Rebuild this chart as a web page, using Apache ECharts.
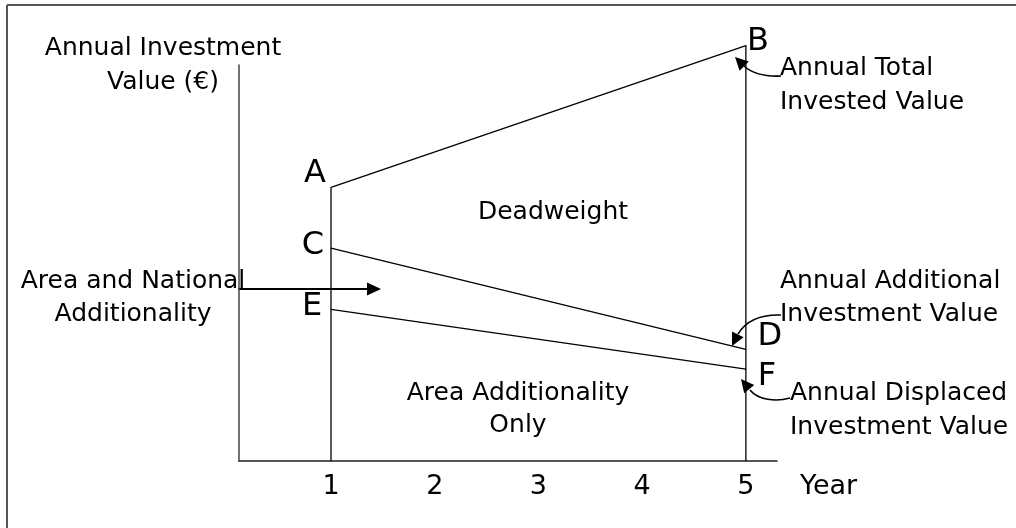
<!DOCTYPE html>
<html>
<head>
<meta charset="utf-8">
<title>Annual Investment Value</title>
<script src="https://cdn.jsdelivr.net/npm/echarts@6/dist/echarts.min.js"></script>
<style>
html, body { margin: 0; padding: 0; background: #fff; }
#chart { width: 1016px; height: 528px; }
</style>
</head>
<body>
<div id="chart"></div>
<script>
// x axis ticks (years) and the two years the lines span
var yearTicks = [1, 2, 3, 4, 5];
var spanYears = [1, 5];
// annual values at year 1 and year 5 (arbitrary units)
var totalInvested = [76, 115.4];   // A -> B
var additional = [59.1, 31.0];     // C -> D
var displaced = [42.1, 25.5];      // E -> F
var startLetters = ['A', 'C', 'E'];
var endLetters = ['B', 'D', 'F'];

var FONT = 'DejaVu Sans';
var chartDom = document.getElementById('chart');
var myChart = echarts.init(chartDom);

// where each letter sits relative to its point
var startOffsets = [[-16, -14], [-18, -3], [-19, -3]];
var endOffsets = [[12, -4], [24, -13], [21, 7]];

function letterLabel(text, offset) {
    return {
        show: true,
        position: 'inside',
        formatter: text,
        offset: offset,
        fontSize: 32,
        fontFamily: FONT,
        color: '#000'
    };
}

function slopeSeries(vals, i) {
    return {
        type: 'line',
        clip: false,
        symbol: 'circle',
        symbolSize: 1,
        itemStyle: { color: '#000' },
        lineStyle: { color: '#000', width: 1.3 },
        silent: true,
        data: [
            { value: [spanYears[0], vals[0]], label: letterLabel(startLetters[i], startOffsets[i]) },
            { value: [spanYears[1], vals[1]], label: letterLabel(endLetters[i], endOffsets[i]) }
        ]
    };
}

function uprightSeries(year, top) {
    return {
        type: 'line',
        clip: false,
        symbol: 'none',
        lineStyle: { color: '#000', width: 1.3 },
        silent: true,
        data: [[year, 0], [year, top]]
    };
}

function head(tx, ty, fx, fy, len, half) {
    var dx = tx - fx, dy = ty - fy;
    var d = Math.sqrt(dx * dx + dy * dy);
    dx /= d; dy /= d;
    var bx = tx - dx * len, by = ty - dy * len;
    return {
        type: 'polygon',
        shape: { points: [[tx, ty], [bx - dy * half, by + dx * half], [bx + dy * half, by - dx * half]] },
        style: { fill: '#000' }
    };
}

function txt(text, x, y, align, lh) {
    return {
        type: 'text',
        style: {
            text: text, x: x, y: y,
            align: align, verticalAlign: 'middle',
            fontSize: 25, fontFamily: FONT, lineHeight: lh || 34,
            fill: '#000'
        }
    };
}

var curve = { stroke: '#000', fill: 'none', lineWidth: 1.6 };

var option = {
    animation: false,
    backgroundColor: '#fff',
    grid: { left: 239, right: 239, top: 65, bottom: 67 },
    xAxis: {
        type: 'value',
        min: 0.113,
        max: 5.3,
        name: 'Year',
        nameLocation: 'end',
        nameGap: 23,
        nameTextStyle: {
            fontSize: 27, fontFamily: FONT, color: '#000',
            align: 'left', verticalAlign: 'top', padding: [12, 0, 0, 0]
        },
        axisLine: { show: true, lineStyle: { color: '#222', width: 1.5 } },
        axisTick: { show: false },
        splitLine: { show: false },
        axisLabel: {
            customValues: yearTicks,
            fontSize: 27,
            fontFamily: FONT,
            color: '#000',
            margin: 12
        }
    },
    yAxis: {
        type: 'value',
        min: 0,
        max: 110,
        axisLine: { show: true, lineStyle: { color: '#444', width: 1.5 } },
        axisTick: { show: false },
        axisLabel: { show: false },
        splitLine: { show: false }
    },
    series: [
        uprightSeries(spanYears[0], totalInvested[0]),
        uprightSeries(spanYears[1], totalInvested[1]),
        slopeSeries(totalInvested, 0),
        slopeSeries(additional, 1),
        slopeSeries(displaced, 2)
    ],
    graphic: [
        // frame
        { type: 'line', shape: { x1: 7, y1: 5, x2: 1016, y2: 5 }, style: { stroke: '#555', lineWidth: 2 } },
        { type: 'line', shape: { x1: 7, y1: 5, x2: 7, y2: 528 }, style: { stroke: '#555', lineWidth: 2 } },
        // texts
        txt('Annual Investment\nValue (€)', 163, 65, 'center', 34),
        txt('Deadweight', 553, 212, 'center'),
        txt('Area Additionality\nOnly', 518, 409, 'center', 32),
        txt('Area and National\nAdditionality', 133, 298, 'center', 33),
        txt('Annual Total\nInvested Value', 780, 85, 'left', 34),
        txt('Annual Additional\nInvestment Value', 780, 298, 'left', 33),
        txt('Annual Displaced\nInvestment Value', 790, 410, 'left', 34),
        // straight arrow
        { type: 'line', shape: { x1: 238, y1: 289, x2: 369, y2: 289 }, style: { stroke: '#000', lineWidth: 1.8 } },
        head(381, 289, 368, 289, 14, 6.5),
        // curved arrows
        { type: 'bezierCurve', shape: { x1: 781, y1: 76, cpx1: 756, cpy1: 77, x2: 744, y2: 66 }, style: curve },
        head(735, 57, 744, 66, 13, 6.5),
        { type: 'bezierCurve', shape: { x1: 781, y1: 315, cpx1: 750, cpy1: 314, x2: 738, y2: 334 }, style: curve },
        head(732, 346, 738, 334, 13, 6.5),
        { type: 'bezierCurve', shape: { x1: 790, y1: 398, cpx1: 776, cpy1: 402, cpx2: 758, cpy2: 400, x2: 750, y2: 390 }, style: curve },
        head(741, 379, 750, 390, 13, 6.5)
    ]
};

myChart.setOption(option);
window.addEventListener('resize', function () {
    myChart.resize();
});
</script>
</body>
</html>
